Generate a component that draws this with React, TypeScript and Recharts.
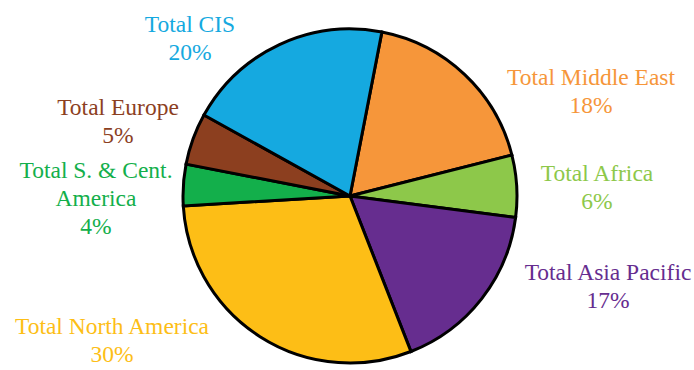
import { PieChart, Pie, Cell } from "recharts";

const regions = [
  "Total Middle East",
  "Total Africa",
  "Total Asia Pacific",
  "Total North America",
  "Total S. & Cent.\nAmerica",
  "Total Europe",
  "Total CIS",
];
const shares = [18, 6, 17, 30, 4, 5, 20];
const colors = ["#F6963A", "#8DC84A", "#662D8F", "#FDBE16", "#13AF4B", "#8C3F1F", "#15A9E0"];

// label anchor (text centre of first line) relative to the pie centre
const labelOffsets = [
  [241, -119],
  [247, -23],
  [258, 76],
  [-238, 130],
  [-254, -26],
  [-232, -89],
  [-160, -172],
];

const data = regions.map((name, i) => ({ name, value: shares[i] }));

function renderLabel(props: any) {
  const { cx, cy, index } = props;
  const [dx, dy] = labelOffsets[index];
  const lines = [...regions[index].split("\n"), `${shares[index]}%`];
  return (
    <text
      x={cx + dx}
      y={cy + dy}
      fill={colors[index]}
      textAnchor="middle"
      style={{ fontFamily: "'Times New Roman', 'Liberation Serif', serif", fontSize: 23.5 }}
    >
      {lines.map((l, j) => (
        <tspan key={j} x={cx + dx} y={cy + dy + j * 28} dominantBaseline="central">
          {l}
        </tspan>
      ))}
    </text>
  );
}

export default function App() {
  return (
    <div style={{ position: "absolute", left: 0, top: 0, background: "#fff" }}>
      <PieChart width={694} height={370} margin={{ top: 0, right: 0, bottom: 0, left: 0 }}>
        <Pie
          data={data}
          dataKey="value"
          nameKey="name"
          cx={350}
          cy={196}
          outerRadius={167}
          startAngle={79}
          endAngle={-281}
          stroke="#000"
          strokeWidth={3}
          label={renderLabel}
          labelLine={false}
          isAnimationActive={false}
        >
          {data.map((d, i) => (
            <Cell key={d.name} fill={colors[i]} />
          ))}
        </Pie>
      </PieChart>
    </div>
  );
}
